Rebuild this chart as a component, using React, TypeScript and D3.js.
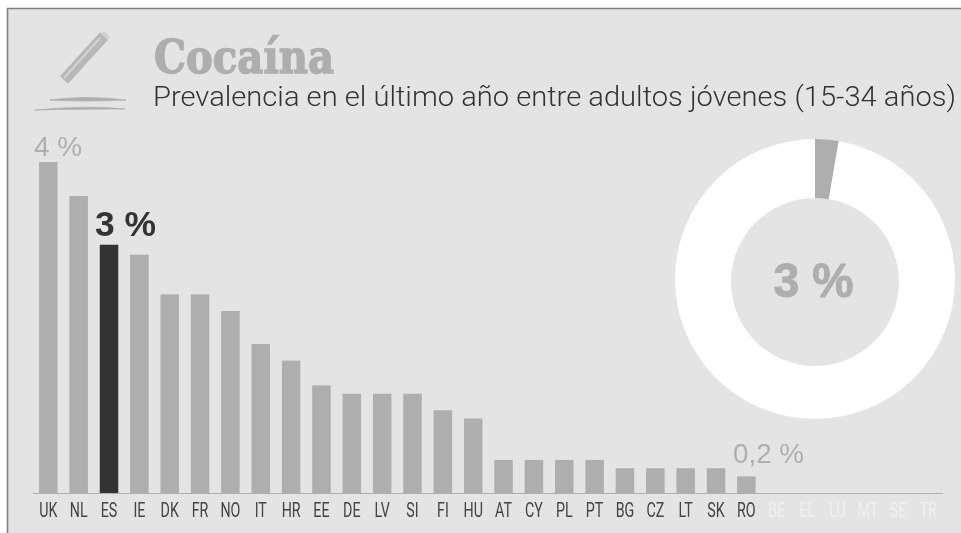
import React from "react";
import * as d3 from "d3";

const countries = ["UK","NL","ES","IE","DK","FR","NO","IT","HR","EE","DE","LV","SI","FI","HU","AT","CY","PL","PT","BG","CZ","LT","SK","RO"];
const prevalence = [4.0,3.59,3.0,2.88,2.4,2.4,2.2,1.8,1.6,1.3,1.2,1.2,1.2,1.0,0.9,0.4,0.4,0.4,0.4,0.3,0.3,0.3,0.3,0.2];
const missingCountries = ["BE","EL","LU","MT","SE","TR"];
const donutValues = [2.7, 97.3];

const BG = "#e4e4e4", GREY = "#aeaeae", DARK = "#333333";
const SANS = "Roboto, 'Liberation Sans', sans-serif";
const HELV = "'Liberation Sans', Arial, sans-serif";

export default function App() {
  const allCodes = [...countries, ...missingCountries];
  const step = 30.3;
  const x = d3.scaleBand<string>().domain(allCodes).range([33.9, 33.9 + step * allCodes.length]).paddingInner(0.39).paddingOuter(0.17);
  const y = d3.scaleLinear().domain([0, 4]).range([493, 162]);
  const cx = 815, cy = 279;
  const pie = d3.pie<number>().sort(null)(donutValues);
  const arc = d3.arc<d3.PieArcDatum<number>>().innerRadius(70).outerRadius(140);
  const center = (c: string) => (x(c) as number) + x.bandwidth() / 2;
  return (
    <svg width={961} height={533} style={{ position: "absolute", left: 0, top: 0, filter: "blur(0.5px)" }}>
      <rect width={961} height={533} fill="#fff" />
      <rect x={7} y={8} width={954} height={525} fill={BG} />
      <path d="M7.5 533V8.5H961" fill="none" stroke="#808080" strokeWidth={1.6} />

      {/* icon */}
      <g>
        <path d="M64 80 L104 36" stroke="#b8b8b8" strokeWidth={11} strokeLinecap="butt" />
        <path d="M64 78 L100 38" stroke="#d2d2d2" strokeWidth={2} />
        <path d="M103 32 L109 38" stroke="#cfcfcf" strokeWidth={3} />
        <path d="M50 100 Q85 95 126 100 Q85 102 50 100 Z" fill={GREY} stroke={GREY} strokeWidth={0.8} />
        <path d="M35 110 Q90 105 125 109 Q85 109 35 110 Z" fill={GREY} stroke={GREY} strokeWidth={0.8} />
      </g>

      <text x={154} y={73} fontFamily="'DejaVu Serif'" fontWeight={700} fontSize={46} fill={GREY} stroke={GREY} strokeWidth={1.4} textLength={180} lengthAdjust="spacingAndGlyphs">Cocaína</text>
      <text x={153} y={105.5} fontFamily={SANS} fontWeight={300} fontSize={27} fill="#333" textLength={803} lengthAdjust="spacingAndGlyphs">Prevalencia en el último año entre adultos jóvenes (15-34 años)</text>

      {countries.map((c, i) => (
        <rect key={c} x={x(c)} y={y(prevalence[i])} width={x.bandwidth()} height={493 - y(prevalence[i])} fill={c === "ES" ? DARK : GREY} />
      ))}
      <line x1={33} x2={943} y1={493.5} y2={493.5} stroke={GREY} strokeWidth={1.2} />

      {allCodes.map((c) => (
        <text key={c} transform={`translate(${center(c)},517) scale(0.68,1)`} textAnchor="middle" fontFamily={SANS} fontSize={21} fill={countries.includes(c) ? "#444" : "#f0f0f0"}>{c}</text>
      ))}

      <text x={34} y={156} fontFamily={HELV} fontSize={27} fill={GREY} textLength={48} lengthAdjust="spacingAndGlyphs">4 %</text>
      <text x={95} y={236} fontFamily={HELV} fontWeight={700} fontSize={35} fill={DARK} textLength={61} lengthAdjust="spacingAndGlyphs">3 %</text>
      <text x={733} y={463} fontFamily={HELV} fontSize={27} fill={GREY} textLength={71} lengthAdjust="spacingAndGlyphs">0,2 %</text>

      <g transform={`translate(${cx},${cy})`}>
        <circle r={140} fill="#fff" />
        <path d={arc(pie[0]) as string} fill={GREY} />
        <circle cy={3} r={84} fill={BG} />
        <text y={18} x={-1.5} textAnchor="middle" fontFamily={HELV} fontWeight={700} fontSize={49} fill={GREY} stroke={GREY} strokeWidth={1} textLength={80} lengthAdjust="spacingAndGlyphs">3 %</text>
      </g>
    </svg>
  );
}
